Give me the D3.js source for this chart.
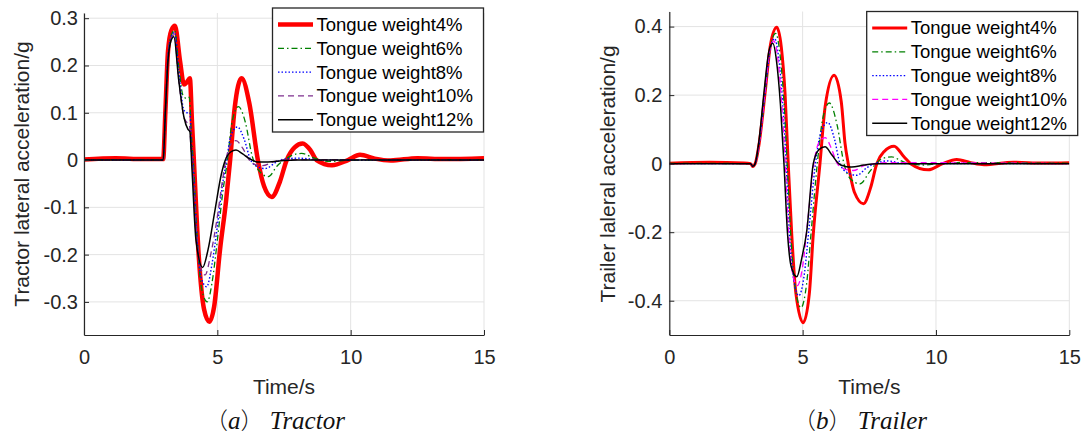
<!DOCTYPE html>
<html>
<head>
<meta charset="utf-8">
<script src="https://cdn.jsdelivr.net/npm/d3@7"></script>
<style>
  body { margin: 0; background: #fff; }
  svg text { font-family: 'Liberation Sans', 'Arial'; fill: #262626; }
</style>
</head>
<body>
<svg id="chart" width="1085" height="437"></svg>
<script>
// values
var timeTicks = [0, 5, 10, 15];
var tractorTicks = [-0.3, -0.2, -0.1, 0, 0.1, 0.2, 0.3];
var trailerTicks = [-0.4, -0.2, 0, 0.2, 0.4];
var seriesNames = ["Tongue weight4%", "Tongue weight6%", "Tongue weight8%", "Tongue weight10%", "Tongue weight12%"];

// tractor lateral acceleration [time s, accel g]
var tractor4 = [[0,0.001],[1.2,0.004],[2.2,0.002],[2.97,0.002],[3.05,0.1],[3.15,0.23],[3.28,0.275],[3.41,0.284],[3.6,0.21],[3.75,0.16],[3.86,0.165],[3.97,0.173],[4.05,0.08],[4.12,0],[4.3,-0.2],[4.5,-0.315],[4.7,-0.342],[4.88,-0.31],[5.1,-0.19],[5.33,-0.085],[5.48,0],[5.65,0.11],[5.91,0.173],[6.2,0.12],[6.52,0],[6.75,-0.055],[7.04,-0.078],[7.35,-0.045],[7.6,0],[7.9,0.027],[8.2,0.035],[8.5,0.02],[8.72,0],[9.3,-0.011],[9.9,0],[10.35,0.011],[10.9,0.003],[11.5,-0.001],[12.5,0.004],[13.5,0.002],[15,0.004]];
var tractor6 = [[0,0.001],[2.97,0.001],[3.05,0.1],[3.15,0.22],[3.28,0.265],[3.4,0.275],[3.55,0.2],[3.71,0.137],[3.85,0.13],[3.95,0.133],[4.03,0.05],[4.1,0],[4.25,-0.17],[4.42,-0.275],[4.62,-0.3],[4.8,-0.26],[5.0,-0.17],[5.2,-0.07],[5.38,0],[5.55,0.08],[5.79,0.113],[6.05,0.08],[6.3,0.01],[6.55,-0.022],[6.91,-0.035],[7.25,-0.012],[7.5,0],[7.8,0.01],[8.16,0.014],[8.6,0.005],[9.2,-0.003],[10,0],[15,0.001]];
var tractor8 = [[0,0],[2.97,0],[3.05,0.1],[3.15,0.22],[3.28,0.262],[3.4,0.27],[3.55,0.19],[3.75,0.105],[3.88,0.1],[3.97,0.1],[4.03,0.03],[4.08,0],[4.22,-0.15],[4.4,-0.25],[4.6,-0.268],[4.8,-0.22],[5.0,-0.14],[5.2,-0.05],[5.35,0],[5.5,0.05],[5.75,0.07],[6.0,0.045],[6.25,0],[6.5,-0.014],[6.79,-0.018],[7.2,-0.005],[7.5,0.002],[8.0,0.004],[9,0],[15,0]];
var tractor10 = [[0,0],[2.97,0],[3.05,0.1],[3.15,0.22],[3.27,0.258],[3.38,0.265],[3.55,0.17],[3.75,0.09],[3.85,0.08],[3.95,0.075],[4.02,0.02],[4.06,0],[4.2,-0.14],[4.36,-0.225],[4.54,-0.243],[4.75,-0.2],[5.0,-0.12],[5.2,-0.04],[5.32,0],[5.5,0.033],[5.7,0.041],[5.95,0.025],[6.2,0],[6.45,-0.01],[6.7,-0.012],[7.1,-0.004],[7.5,0.001],[15,0]];
var tractor12 = [[0,0],[2.97,0],[3.05,0.1],[3.15,0.21],[3.26,0.252],[3.37,0.261],[3.55,0.17],[3.75,0.09],[3.9,0.065],[3.97,0.06],[4.05,-0.02],[4.2,-0.17],[4.45,-0.227],[4.65,-0.19],[4.9,-0.11],[5.15,-0.03],[5.3,0],[5.5,0.017],[5.7,0.021],[5.95,0.013],[6.2,0.003],[6.5,-0.004],[6.9,-0.004],[7.5,-0.001],[8,0],[15,0]];

// trailer lateral acceleration [time s, accel g]
var trailer4 = [[0,0.001],[1.5,0.004],[2.8,0.002],[3.05,0],[3.13,-0.008],[3.22,0],[3.37,0.059],[3.59,0.205],[3.8,0.35],[4.03,0.398],[4.2,0.34],[4.34,0.205],[4.46,0],[4.59,-0.205],[4.75,-0.38],[5.02,-0.464],[5.25,-0.38],[5.4,-0.205],[5.65,0],[5.85,0.17],[6.18,0.258],[6.45,0.18],[6.59,0.059],[6.71,0],[6.95,-0.085],[7.28,-0.117],[7.55,-0.07],[7.78,0],[8.05,0.035],[8.43,0.051],[8.8,0.02],[9.05,0],[9.71,-0.018],[10.25,0],[10.78,0.012],[11.3,0.003],[11.8,-0.003],[12.9,0.004],[14,0.002],[15,0.003]];
var trailer6 = [[0,0.001],[3.05,0],[3.13,-0.008],[3.22,0],[3.37,0.059],[3.59,0.205],[3.8,0.345],[3.99,0.38],[4.15,0.32],[4.3,0.18],[4.42,0],[4.55,-0.2],[4.7,-0.35],[4.94,-0.42],[5.15,-0.35],[5.33,-0.19],[5.55,0],[5.75,0.13],[6.0,0.177],[6.3,0.11],[6.55,0],[6.8,-0.045],[7.15,-0.059],[7.5,-0.025],[7.75,0],[8.0,0.015],[8.34,0.02],[8.7,0.008],[9.0,0],[9.5,-0.004],[10.5,0.003],[15,0.001]];
var trailer8 = [[0,0],[3.05,0],[3.13,-0.008],[3.22,0],[3.37,0.059],[3.59,0.205],[3.8,0.34],[3.95,0.365],[4.1,0.31],[4.25,0.18],[4.38,0],[4.5,-0.2],[4.65,-0.33],[4.86,-0.385],[5.05,-0.33],[5.25,-0.18],[5.48,0],[5.7,0.095],[5.94,0.12],[6.2,0.07],[6.4,0],[6.65,-0.025],[7.03,-0.034],[7.4,-0.012],[7.7,0],[8.2,0.008],[8.8,0],[15,0]];
var trailer10 = [[0,0],[3.05,0],[3.13,-0.008],[3.22,0],[3.37,0.059],[3.58,0.205],[3.78,0.335],[3.92,0.358],[4.08,0.3],[4.22,0.17],[4.35,0],[4.47,-0.2],[4.6,-0.31],[4.8,-0.356],[5.0,-0.3],[5.2,-0.16],[5.42,0],[5.6,0.06],[5.84,0.076],[6.1,0.04],[6.3,0],[6.55,-0.015],[6.9,-0.02],[7.3,-0.006],[7.7,0],[8.2,0.003],[15,0]];
var trailer12 = [[0,0],[3.05,0],[3.13,-0.008],[3.22,0],[3.36,0.065],[3.56,0.215],[3.74,0.33],[3.88,0.351],[4.02,0.3],[4.17,0.17],[4.3,0],[4.43,-0.2],[4.57,-0.3],[4.78,-0.33],[4.97,-0.275],[5.15,-0.2],[5.4,0],[5.6,0.04],[5.84,0.049],[6.1,0.025],[6.35,0],[6.6,-0.008],[6.84,-0.01],[7.3,-0.004],[7.8,0],[15,0]];

var svg = d3.select("#chart");
var SANS = "'Liberation Sans', 'Arial'";
var SERIF = "'Liberation Serif', 'Times New Roman'";

// line styles: colour, width, dash
function styles(thick, fifth) {
  return [
    { color: "#ff0000", width: thick, dash: null },
    { color: "#008000", width: 1.3, dash: "6,3,1.5,3" },
    { color: "#0000ff", width: 1.4, dash: "1.5,2" },
    { color: fifth, width: 1.3, dash: "6,4" },
    { color: "#000000", width: 1.5, dash: null }
  ];
}

function drawPanel(p) {
  var x = d3.scaleLinear().domain([0, 15]).range([p.left, p.right]);
  var y = d3.scaleLinear().domain(p.yDomain).range([p.bottom, p.top]);
  var g = svg.append("g");

  // grid
  g.selectAll(".vgrid").data(timeTicks).enter().append("line")
    .attr("x1", d => x(d)).attr("x2", d => x(d))
    .attr("y1", p.top).attr("y2", p.bottom)
    .attr("stroke", "#e3e3e3").attr("stroke-width", 1);
  g.selectAll(".hgrid").data(p.ticks).enter().append("line")
    .attr("x1", p.left).attr("x2", p.right)
    .attr("y1", d => y(d)).attr("y2", d => y(d))
    .attr("stroke", "#e3e3e3").attr("stroke-width", 1);

  // curves
  var clipId = "clip" + p.id;
  svg.append("clipPath").attr("id", clipId).append("rect")
    .attr("x", p.left).attr("y", p.top).attr("width", p.right - p.left).attr("height", p.bottom - p.top);
  var line = d3.line().x(d => x(d[0])).y(d => y(d[1])).curve(d3.curveMonotoneX);
  var st = p.styles;
  p.series.forEach(function(s, i) {
    g.append("path").datum(s)
      .attr("clip-path", "url(#" + clipId + ")")
      .attr("d", line)
      .attr("fill", "none")
      .attr("stroke", st[i].color)
      .attr("stroke-width", st[i].width)
      .attr("stroke-dasharray", st[i].dash)
      .attr("stroke-linejoin", "round");
  });

  // axes
  var xAxis = d3.axisBottom(x).tickValues(timeTicks).tickSizeInner(-5).tickSizeOuter(0).tickPadding(15).tickFormat(d => String(d));
  var yAxis = d3.axisLeft(y).tickValues(p.ticks).tickSizeInner(-5).tickSizeOuter(0).tickPadding(p.yPad).tickFormat(d => String(d));
  var xa = g.append("g").attr("transform", "translate(0," + p.bottom + ")").call(xAxis);
  var ya = g.append("g").attr("transform", "translate(" + p.left + ",0)").call(yAxis);
  [xa, ya].forEach(function(a) {
    a.attr("font-family", null).attr("font-size", null);
    a.select(".domain").attr("stroke", "#262626").attr("stroke-width", 1.2);
    a.selectAll(".tick line").attr("stroke", "#262626");
    a.selectAll(".tick text").attr("fill", "#262626").style("font-size", "20px").style("font-family", SANS);
  });

  // axis titles
  g.append("text").attr("x", (p.left + p.right) / 2).attr("y", 387).attr("dy", "0.35em")
    .attr("text-anchor", "middle").style("font-family", SANS).style("font-size", "21px").text("Time/s");
  g.append("text").attr("transform", "translate(" + p.yLabelX + ",174) rotate(-90)")
    .attr("dy", "0.35em").attr("text-anchor", "middle").style("font-family", SANS).style("font-size", "21px").text(p.yLabel);

  // caption
  var cap = g.append("text").attr("x", p.capX).attr("y", 429).attr("text-anchor", "middle")
    .style("font-family", SERIF).style("font-size", "25px").style("fill", "#111");
  cap.append("tspan").style("font-family", "'Noto Sans CJK SC'").style("font-size", "23px").style("font-weight", "300").text("（");
  cap.append("tspan").style("font-style", "italic").text(p.capLetter);
  cap.append("tspan").style("font-family", "'Noto Sans CJK SC'").style("font-size", "23px").style("font-weight", "300").text("）");
  cap.append("tspan").style("font-style", "italic").text(" " + p.capWord);

  // legend
  var lg = g.append("g");
  lg.append("rect").attr("x", p.legX).attr("y", p.legY).attr("width", 211).attr("height", 124)
    .attr("fill", "#fff").attr("stroke", "#262626").attr("stroke-width", 1.3);
  seriesNames.forEach(function(name, i) {
    var ry = p.legY + 16.5 + i * 23.8;
    lg.append("line").attr("x1", p.legX + 5.5).attr("x2", p.legX + 40.5).attr("y1", ry).attr("y2", ry)
      .attr("stroke", st[i].color).attr("stroke-width", st[i].width).attr("stroke-dasharray", st[i].dash);
    lg.append("text").attr("x", p.legX + 44).attr("y", ry).attr("dy", "0.35em")
      .style("font-family", SANS).style("font-size", "18.5px").style("fill", "#000").text(name);
  });
}

drawPanel({
  id: "a", left: 84, right: 484, top: 13, bottom: 335, yDomain: [-0.37, 0.311],
  ticks: tractorTicks, yPad: 6, yLabelX: 22, yLabel: "Tractor lateral acceleration/g",
  series: [tractor4, tractor6, tractor8, tractor10, tractor12], styles: styles(4.5, "#7e2f8e"),
  legX: 272.5, legY: 8, capX: 275, capLetter: "a", capWord: "Tractor"
});
drawPanel({
  id: "b", left: 669.3, right: 1069.3, top: 11.5, bottom: 335, yDomain: [-0.5, 0.444],
  ticks: trailerTicks, yPad: 7, yLabelX: 608, yLabel: "Trailer laleral acceleration/g",
  series: [trailer4, trailer6, trailer8, trailer10, trailer12], styles: styles(3, "#ff00ff"),
  legX: 866.7, legY: 11.5, capX: 860, capLetter: "b", capWord: "Trailer"
});
</script>
</body>
</html>
